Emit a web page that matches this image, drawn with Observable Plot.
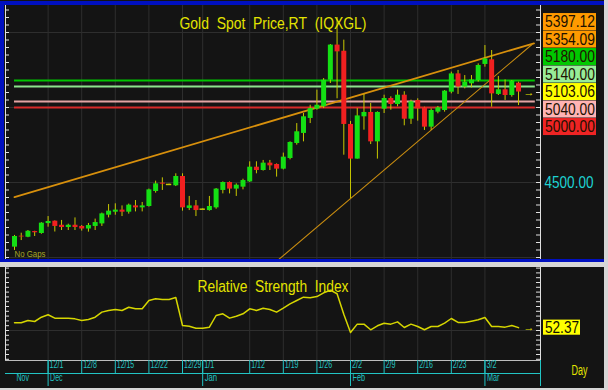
<!DOCTYPE html>
<html><head><meta charset="utf-8">
<script src="https://cdn.jsdelivr.net/npm/d3@7"></script>
<script src="https://cdn.jsdelivr.net/npm/@observablehq/plot@0.6"></script>
<style>
html,body{margin:0;padding:0;background:#d6d6d6;}
#wrap{position:relative;width:608px;height:390px;overflow:hidden;background:#d6d6d6;}
#wrap svg{position:absolute;display:block;}
.bar{position:absolute;}
</style></head><body><div id="wrap"></div>
<script>
// ---- data ----
const opens = [4069,4142,4135,4173,4160,4226,4242,4215,4200,4215, 4207,4190,4207,4224,4282,4302,4316,4302,4344,4331, 4340,4440,4496,4487,4478,4540,4327,4344,4322,4313, 4331,4447,4500,4456,4469,4504,4602,4580,4629,4620, 4589,4660,4760,4827,4927,4989,5005,5182,5416,5375, 4887,4656,4938,4967,4771,4989,5060,5020,5082,4922, 5047,4998,4869,4969,4980,5102,5224,5136,5158,5180, 5287,5318,5087,5118,5080,5162];
const highs = [4147,4162,4180,4175,4232,4273,4244,4247,4222,4264, 4213,4227,4256,4296,4353,4358,4344,4356,4380,4367, 4456,4509,4531,4489,4558,4558,4407,4380,4324,4407, 4460,4504,4504,4491,4522,4638,4638,4647,4647,4624, 4696,4771,4893,4960,5015,5116,5193,5420,5600,5449, 4907,4993,5087,5027,4971,5082,5071,5116,5105,5049, 5058,5002,4991,5007,5113,5236,5247,5213,5213,5291, 5413,5380,5207,5184,5180,5169];
const lows = [4047,4113,4132,4140,4155,4202,4170,4180,4180,4180, 4176,4169,4180,4207,4264,4282,4273,4289,4304,4304, 4336,4429,4447,4485,4473,4309,4313,4273,4320,4309, 4322,4424,4424,4407,4451,4500,4558,4576,4580,4536, 4584,4651,4749,4771,4893,4982,4993,5160,5058,4682, 4393,4656,4849,4753,4656,4960,4982,5005,4878,4887, 4909,4847,4847,4958,4969,5091,5087,5124,5131,5169, 5269,5002,5080,5047,5069,5013];
const closes = [4140,4137,4175,4165,4229,4240,4207,4200,4215,4200, 4190,4213,4233,4291,4309,4316,4302,4349,4331,4344, 4451,4491,4489,4487,4540,4331,4344,4313,4322,4340, 4456,4500,4456,4482,4513,4602,4580,4629,4611,4589, 4669,4767,4838,4938,4993,5015,5182,5416,5371,4887, 4656,4944,4967,4771,4967,5060,5020,5082,4922,5038, 4991,4869,4980,4998,5109,5224,5136,5169,5184,5280, 5324,5091,5118,5080,5176,5103.06];
const rsiValues = [56.4,56.4,58.3,57.5,61.1,63.1,60.3,60.3,60.3,59.7, 58.3,59.2,61.1,65.3,66.7,67.5,66.7,69.4,68.1,68.1, 75.0,76.4,75.8,75.8,77.5,54.2,53.6,51.9,51.9,52.8, 62.5,63.9,60.3,61.9,63.9,68.1,66.7,68.6,67.5,65.3, 68.6,72.2,75.0,77.8,77.2,78.3,81.4,83.6,80.6,63.6, 48.3,55.3,55.3,50.6,53.9,56.1,55.3,57.2,52.5,55.3, 53.3,50.6,53.3,53.3,56.1,60.0,56.7,56.7,57.8,58.9, 60.8,53.3,53.3,52.8,54.2,52.37];
const weekTicks = [5,10,15,20,25,28,35,40,45,50,55,60,65,70];
const weekLabels = ["12/1","12/8","12/15","12/22","12/29","1/1","1/12","1/19","1/26","2/2","2/9","2/16","2/23","3/2"];
const monthTicks = [0,5,28,50,70];
const monthLabels = ["Nov","Dec","Jan","Feb","Mar"];
const levelValues = [5180,5140,5040,5000];
const levelColors = ["#00c400","#8ce48c","#e4a4a4","#d82a2a"];
const levelBoxColors = ["#00c800","#98ec98","#ffb4b4","#ee2424"];
const levelSpan = [0,77.5];
const trendUpper = [{i:0,p:4402},{i:77.3,p:5428}];
const trendLower = [{i:39.2,p:3982},{i:77.0,p:5420}];
const trendValues = [5397.12,5354.09];
const lastPrice = 5103.06;
const lastRsi = 52.37;
const priceAxisLabels = [4500];
const titleText = "Gold\u00a0 Spot\u00a0 Price,RT\u00a0 (IQXGL)";
const rsiTitle = "Relative\u00a0 Strength\u00a0 Index";
const noGaps = "No Gaps";
const dayLabel = "Day";

// ---- styling / layout ----
const FONT = "'Liberation Sans Narrow','Liberation Sans',Arial,sans-serif";
const BG = "#141414", GRID = "#2e2e2e", WHITE = "#e0e0e0", CYAN = "#22c4c4";
const YEL = "#e4e400", WICK = "#c8c800", UP = "#14e014", DN = "#f02020";
const W = 604;
const xDomain = [-1.34, 78.27];
const yDomain = [3980, 5680];
const xs = Plot.scale({x:{domain:xDomain, range:[5,540]}});
const ys = Plot.scale({y:{domain:yDomain, range:[260,5]}});

const candles = closes.map((c,i)=>({i, o:opens[i], h:highs[i], l:lows[i], c}));
const bodyColor = d => d.c > d.o ? UP : DN;
const levels = levelValues.map((v,k)=>({v, color: levelColors[k]}));

// stacked value boxes in the right column
const boxes = [
  {v: trendValues[0], color: "#ff9a00"},
  {v: trendValues[1], color: "#ff9a00"},
  {v: levelValues[0], color: levelBoxColors[0]},
  {v: levelValues[1], color: levelBoxColors[1]},
  {v: lastPrice, color: "#ffff00", anchor: true},
  {v: levelValues[2], color: levelBoxColors[2]},
  {v: levelValues[3], color: levelBoxColors[3]}
];
const STEP = 17.5, BH = 17;
const ai = boxes.findIndex(b=>b.anchor);
boxes[ai].yc = ys.apply(boxes[ai].v);
for (let k = ai-1; k >= 0; k--) boxes[k].yc = Math.min(ys.apply(boxes[k].v), boxes[k+1].yc - STEP);
for (let k = ai+1; k < boxes.length; k++) boxes[k].yc = Math.max(ys.apply(boxes[k].v), boxes[k-1].yc + STEP);
const bx1 = xs.invert(543), bx2 = xs.invert(596), bxc = xs.invert(569.5);

const priceTicks = d3.range(4000, 5701, 50);
const priceGrid = [4000,4500,5000,5500];

const price = Plot.plot({
  width: W, height: 262, marginLeft: 5, marginRight: 64, marginTop: 5, marginBottom: 2,
  x: {domain: xDomain, axis: null},
  y: {domain: yDomain, axis: null},
  style: {background: BG, fontFamily: FONT, overflow: "visible"},
  marks: [
    Plot.ruleY(priceGrid, {stroke: GRID}),
    Plot.ruleX(weekTicks, {stroke: GRID}),
    Plot.ruleY(levels, {y: "v", x1: levelSpan[0], x2: levelSpan[1], stroke: d=>d.color, strokeWidth: 2}),
    Plot.line(trendUpper, {x: "i", y: "p", stroke: "#d8900c", strokeWidth: 1.8}),
    Plot.line(trendLower, {x: "i", y: "p", stroke: "#c88c10", strokeWidth: 1.1}),
    Plot.ruleX(candles, {x: "i", y1: "l", y2: "h", stroke: WICK, strokeWidth: 1}),
    Plot.ruleX(candles.filter(d=>d.o!==d.c), {x: "i", y1: "o", y2: "c", stroke: bodyColor, strokeWidth: 5}),
    Plot.ruleY(candles.filter(d=>d.o===d.c), {y: "c", x1: d=>d.i-0.4, x2: d=>d.i+0.4, stroke: WICK, strokeWidth: 1.5}),
    Plot.ruleX([xDomain[0], xDomain[1]], {stroke: WHITE, strokeWidth: 1}),
    Plot.ruleY(priceTicks, {insetLeft: 531, stroke: WHITE}),
    Plot.ruleY(priceTicks, {insetRight: 531, stroke: WHITE}),
    Plot.text([titleText], {text: d=>d, frameAnchor: "top", dy: 11, fill: YEL, fontSize: 17}),
    Plot.text([noGaps], {text: d=>d, frameAnchor: "bottom-left", dx: 9, dy: -4, textAnchor: "start", fill: "#a8a826", fontSize: 9}),
    Plot.text([lastPrice], {y: d=>d, text: ()=>"\u2192", frameAnchor: "right", dx: -6, fill: YEL, fontSize: 11}),
    Plot.text(priceAxisLabels, {y: d=>d, text: d=>d.toFixed(2), frameAnchor: "right", dx: 4, textAnchor: "start", fill: "#1ed2d2", fontSize: 16}),
    Plot.rect(boxes, {x1: bx1, x2: bx2, y1: d=>ys.invert(d.yc + BH/2), y2: d=>ys.invert(d.yc - BH/2), fill: d=>d.color}),
    Plot.text(boxes, {x: bxc, y: d=>ys.invert(d.yc), text: d=>d.v.toFixed(2), fill: "#201000", fontSize: 16})
  ]
});

const rsiData = rsiValues.map((v,i)=>({i, v}));
const rsiTicks = d3.range(26, 103, 4);
const rsi = Plot.plot({
  width: W, height: 121, marginLeft: 5, marginRight: 64, marginTop: 0, marginBottom: 28,
  x: {domain: xDomain, axis: null},
  y: {domain: [25, 102.5], axis: null},
  style: {background: BG, fontFamily: FONT, overflow: "visible"},
  marks: [
    Plot.ruleX(weekTicks, {stroke: GRID}),
    Plot.ruleY([50], {stroke: GRID}),
    Plot.text([rsiTitle], {text: d=>d, frameAnchor: "top", dy: 13, fill: YEL, fontSize: 16}),
    Plot.line(rsiData, {x: "i", y: "v", stroke: "#d6d600", strokeWidth: 1.5}),
    Plot.ruleX([xDomain[0], xDomain[1]], {stroke: WHITE}),
    Plot.ruleY(rsiTicks, {insetLeft: 531, stroke: WHITE}),
    Plot.ruleY(rsiTicks, {insetRight: 531, stroke: WHITE}),
    Plot.text([lastRsi], {y: d=>d, text: ()=>"\u2192", frameAnchor: "right", dx: -6, fill: YEL, fontSize: 11}),
    Plot.rect([lastRsi], {x1: xs.invert(543), x2: xs.invert(580), y1: d=>d - 6.3, y2: d=>d + 6.3, fill: "#ffff00"}),
    Plot.text([lastRsi], {x: xs.invert(561.5), y: d=>d, text: d=>d.toFixed(2), fill: "#101000", fontSize: 16}),
    // date axis
    Plot.ruleY([25], {stroke: "#bdbdbd"}),
    Plot.ruleY([25], {dy: 13, stroke: CYAN}),
    Plot.ruleX(weekTicks, {insetTop: 93, insetBottom: -13, stroke: CYAN}),
    Plot.ruleX(monthTicks.slice(1).concat([xDomain[1]]), {insetTop: 93, insetBottom: -26, stroke: CYAN}),
    Plot.text(weekTicks, {x: d=>d, text: (d,k)=>weekLabels[k], frameAnchor: "bottom", dx: 1.5, dy: 7, textAnchor: "start", fill: CYAN, fontSize: 11}),
    Plot.text(monthTicks, {x: d=>d, text: (d,k)=>monthLabels[k], frameAnchor: "bottom", dx: 2, dy: 20, textAnchor: "start", fill: CYAN, fontSize: 10.5}),
    Plot.text([dayLabel], {text: d=>d, frameAnchor: "bottom-right", dx: 47, dy: 14, fill: YEL, fontSize: 14})
  ]
});

const wrap = document.getElementById("wrap");
price.style.left = "0px"; price.style.top = "0px";
rsi.style.left = "0px"; rsi.style.top = "267px";
wrap.appendChild(price);
wrap.appendChild(rsi);
function bar(l,t,w,h,c){const d=document.createElement("div");d.className="bar";d.style.cssText=`left:${l}px;top:${t}px;width:${w}px;height:${h}px;background:${c}`;wrap.appendChild(d);}
const BLUE = "#0010c0";
bar(0,1,W,4,BLUE); bar(0,1,4,261,BLUE); bar(0,259,W,3,BLUE);

// condense texts (the original chart uses a narrow face)
const boxStrings = new Set(boxes.map(b=>b.v.toFixed(2)));
const weekSet = new Set(weekLabels), monthSet = new Set(monthLabels);
const narrowLen = s => [...s].reduce((a,ch)=>a + (ch === "/" ? 2.6 : 3.7), 0);
function targetFor(s){
  if (s === titleText) return 187;
  if (s === rsiTitle) return 151;
  if (s === noGaps) return 31;
  if (s === dayLabel) return 16;
  if (s === "4500.00") return 49;
  if (s === lastRsi.toFixed(2)) return 34;
  if (boxStrings.has(s)) return 50;
  if (weekSet.has(s)) return narrowLen(s);
  if (monthSet.has(s)) return 12.5;
  return null;
}
d3.selectAll("#wrap svg text").each(function(){
  const t = targetFor(this.textContent);
  if (t != null) { this.setAttribute("textLength", t); this.setAttribute("lengthAdjust", "spacingAndGlyphs"); }
});
</script></body></html>
